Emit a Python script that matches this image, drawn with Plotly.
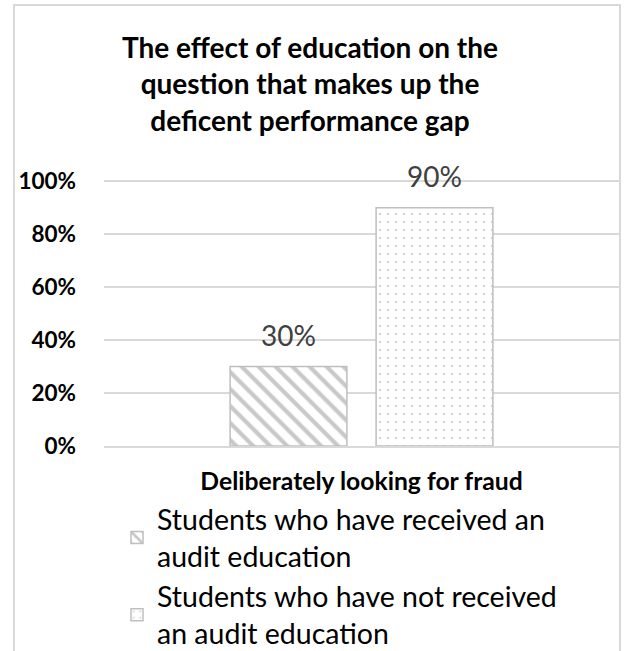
import plotly.graph_objects as go

categories = ["Deliberately looking for fraud"]
series_names = [
    "Students who have received an<br>audit education",
    "Students who have not received<br>an audit education",
]
series_values = [[0.30], [0.90]]
series_shapes = ["\\", "."]
tick_vals = [0, 0.2, 0.4, 0.6, 0.8, 1.0]
tick_text = ["0%", "20%", "40%", "60%", "80%", "100%"]

FONT = "Lato"
BARGAP, BARGROUPGAP = 0.433, 0.2

fig = go.Figure()
for name, vals, shp in zip(series_names, series_values, series_shapes):
    fig.add_trace(go.Bar(
        x=categories, y=vals, name=name,
        marker=dict(
            color="white",
            line=dict(color="#bfbfbf", width=1.5),
            pattern=dict(shape=shp, fgcolor="#c8c8c8", bgcolor="white",
                         size=12 if shp == "\\" else 8,
                         solidity=0.35 if shp == "\\" else 0.06,
                         fillmode="replace"),
        ),
    ))

# data labels above bars
n = len(series_values)
slot = (1 - BARGAP) / n
for i, vals in enumerate(series_values):
    for j, v in enumerate(vals):
        fig.add_annotation(
            x=j - (1 - BARGAP) / 2 + slot * (i + 0.5), y=v, xref="x", yref="y",
            text=f"{round(v*100)}%", showarrow=False,
            yanchor="bottom", yshift=13,
            font=dict(family=FONT, size=28, color="#404040"),
        )

L, R, T, B = 104, 5, 178, 205
W, H = 624, 651
pw, ph = W - L - R, H - T - B

def px(x):
    return (x - L) / pw

def py(y):
    return (H - B - y) / ph

fig.update_layout(
    width=W, height=H,
    margin=dict(l=L, r=R, t=T, b=B, autoexpand=False),
    paper_bgcolor="white", plot_bgcolor="white",
    barmode="group", bargap=BARGAP, bargroupgap=BARGROUPGAP,
    title=dict(
        text="<b>The effect of education on the<br>question that makes up the<br>deficent performance gap</b>",
        font=dict(family=FONT, size=28, color="black"),
        x=310 / W, xanchor="center", xref="container",
        y=1 - 58 / H, yanchor="top", yref="container",
    ),
    xaxis=dict(
        showline=True, linecolor="#d9d9d9", linewidth=2,
        tickfont=dict(family=FONT, size=24.7, color="black", weight="bold"),
        ticks="", automargin=False, ticklabelstandoff=12,
    ),
    yaxis=dict(
        range=[0, 1.012], tickvals=tick_vals, ticktext=tick_text,
        showgrid=True, gridcolor="#d9d9d9", gridwidth=1.5,
        zeroline=False, showline=False, ticks="",
        tickfont=dict(family=FONT, size=22.5, color="black", weight="bold"),
        ticklabelstandoff=27, automargin=False,
    ),
    legend=dict(
        x=117 / W, y=1 - 494 / H, xref="container", yref="container",
        xanchor="left", yanchor="top",
        orientation="v",
        font=dict(family=FONT, size=28.5, color="black"),
        bgcolor="rgba(0,0,0,0)", tracegroupgap=0,
    ),
    showlegend=True,
)

fig.add_shape(type="rect", xref="paper", yref="paper",
              x0=px(14), x1=px(620), y0=py(700), y1=py(5),
              line=dict(color="#d9d9d9", width=2), fillcolor="rgba(0,0,0,0)",
              layer="below")

fig.write_html("out.html", config={"displayModeBar": False},
               post_script="document.body.style.margin='0';")
